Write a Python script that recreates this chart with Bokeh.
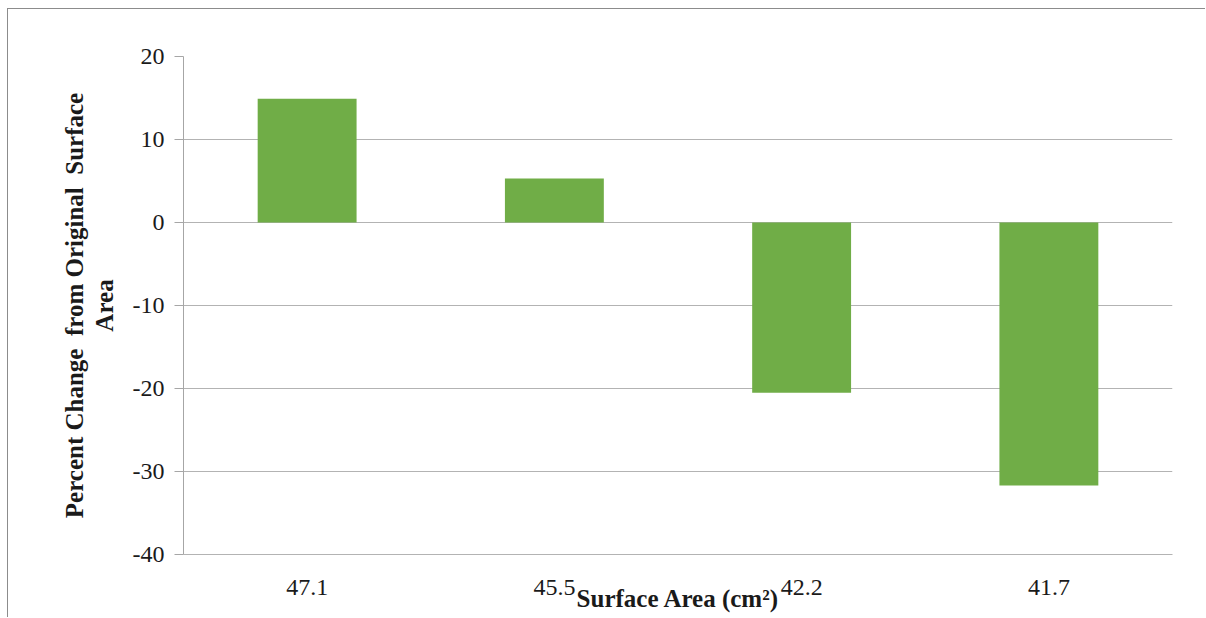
from bokeh.plotting import figure
from bokeh.models import ColumnDataSource, FixedTicker, Range1d, PrintfTickFormatter
from bokeh.embed import file_html
from bokeh.resources import INLINE

# Surface area categories (cm^2) and percent change from the original area
surface_area = ["47.1", "45.5", "42.2", "41.7"]
percent_change = [14.9, 5.3, -20.5, -31.7]
y_ticks = [-40, -30, -20, -10, 0, 10, 20]

source = ColumnDataSource(data=dict(area=surface_area, change=percent_change))

SERIF = "Liberation Serif"
GRID = "#b3b3b3"
TEXT = "#1a1a1a"
NBSP = "\u00a0"

p = figure(
    x_range=surface_area,
    y_range=Range1d(-40, 20),
    width=1198,
    height=609,
    output_backend="svg",
    toolbar_location=None,
    min_border_left=175,
    min_border_right=34,
    min_border_top=47,
    min_border_bottom=64,
)
p.styles = {
    "margin-left": "7px",
    "margin-top": "8px",
    "border-left": "1px solid #8c8c8c",
    "border-top": "1px solid #8c8c8c",
}

p.vbar(x="area", top="change", bottom=0, width=0.4, source=source,
       fill_color="#70ad47", line_color=None)

p.outline_line_color = None
p.background_fill_color = "white"
p.border_fill_color = "white"

# horizontal gridlines only
p.xgrid.grid_line_color = None
p.ygrid.grid_line_color = GRID
p.ygrid.grid_line_width = 1.2
p.yaxis.ticker = FixedTicker(ticks=y_ticks)
p.yaxis.formatter = PrintfTickFormatter(format="%d")

# y axis
p.yaxis.axis_line_color = "#a6a6a6"
p.yaxis.major_tick_line_color = "#a6a6a6"
p.yaxis.major_tick_out = 9
p.yaxis.major_tick_in = 0
p.yaxis.minor_tick_line_color = None
p.yaxis.major_label_standoff = 10
p.yaxis.major_label_text_font = SERIF
p.yaxis.major_label_text_font_size = "24px"
p.yaxis.major_label_text_color = TEXT
p.yaxis.axis_label = f"Percent Change{NBSP} from Original{NBSP} Surface\nArea"
p.yaxis.axis_label_text_font = SERIF
p.yaxis.axis_label_text_font_size = "25px"
p.yaxis.axis_label_text_font_style = "bold"
p.yaxis.axis_label_text_color = TEXT
p.yaxis.axis_label_text_line_height = 1.1
p.yaxis.axis_label_standoff = 12

# x axis
p.xaxis.axis_line_color = GRID
p.xaxis.axis_line_width = 1.2
p.xaxis.major_tick_line_color = None
p.xaxis.minor_tick_line_color = None
p.xaxis.major_label_standoff = 19
p.xaxis.major_label_text_font = SERIF
p.xaxis.major_label_text_font_size = "24px"
p.xaxis.major_label_text_color = TEXT
p.xaxis.axis_label = "Surface Area (cm²)"
p.xaxis.axis_label_text_font = SERIF
p.xaxis.axis_label_text_font_size = "25px"
p.xaxis.axis_label_text_font_style = "bold"
p.xaxis.axis_label_text_color = TEXT
p.xaxis.axis_label_standoff = -13

open("out.html", "w").write(file_html(p, INLINE))
